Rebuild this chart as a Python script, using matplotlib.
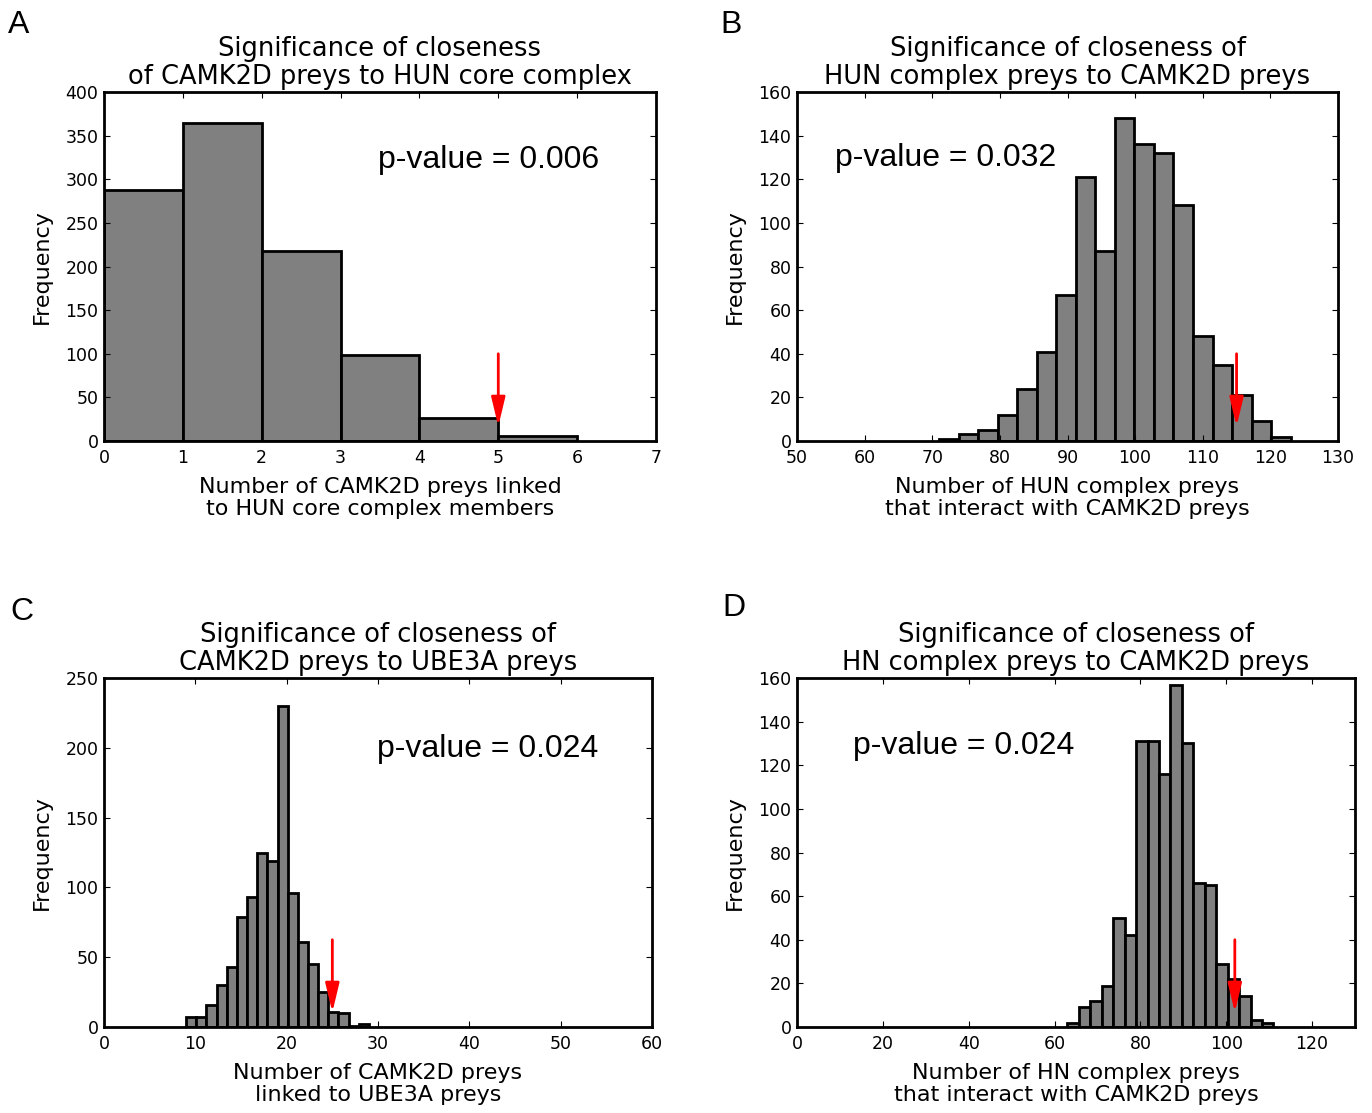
import numpy as np
import matplotlib
matplotlib.use("Agg")
import matplotlib.pyplot as plt

# histogram counts (1000 random samples each)
counts_a = [288, 364, 218, 98, 26, 6]
edges_a = (0, 6)
counts_b = [1, 3, 5, 12, 24, 41, 67, 121, 87, 148, 136, 132, 108, 48, 35, 21, 9, 2]
edges_b = (71, 123)
counts_c = [7, 7, 16, 30, 43, 79, 93, 125, 119, 230, 96, 61, 45, 25, 11, 10, 1, 2]
edges_c = (9, 29)
counts_d = [2, 9, 12, 19, 50, 42, 131, 131, 116, 157, 130, 66, 65, 29, 22, 14, 3, 2]
edges_d = (63, 111)

observed = [5, 115, 25, 102]
pvalues = ["0.006", "0.032", "0.024", "0.024"]

titles = ["Significance of closeness\nof CAMK2D preys to HUN core complex",
          "Significance of closeness of\nHUN complex preys to CAMK2D preys",
          "Significance of closeness of\nCAMK2D preys to UBE3A preys",
          "Significance of closeness of\nHN complex preys to CAMK2D preys"]
xlabels = ["Number of CAMK2D preys linked\nto HUN core complex members",
           "Number of HUN complex preys\nthat interact with CAMK2D preys",
           "Number of CAMK2D preys\nlinked to UBE3A preys",
           "Number of HN complex preys\nthat interact with CAMK2D preys"]
letters = ["A", "B", "C", "D"]

plt.rcParams["xtick.direction"] = "in"
plt.rcParams["ytick.direction"] = "in"
plt.rcParams["xtick.top"] = True
plt.rcParams["ytick.right"] = True
plt.rcParams["xtick.major.size"] = 4
plt.rcParams["ytick.major.size"] = 4
plt.rcParams["xtick.major.pad"] = 6
plt.rcParams["ytick.major.pad"] = 4

W, H = 1372, 1113
fig = plt.figure(figsize=(W / 100, H / 100), dpi=100)

# axes boxes in pixels: left, right, top, bottom
boxes = [(104, 656, 92, 441), (797, 1338, 92, 441),
         (104, 652, 678, 1027), (797, 1355, 678, 1027)]
xlims = [(0, 7), (50, 130), (0, 60), (0, 130)]
ylims = [(0, 400), (0, 160), (0, 250), (0, 160)]
xticks = [np.arange(0, 8, 1), np.arange(50, 131, 10), np.arange(0, 61, 10), np.arange(0, 121, 20)]
yticks = [np.arange(0, 401, 50), np.arange(0, 161, 20), np.arange(0, 251, 50), np.arange(0, 161, 20)]
ptext_pos = [(0.496, 0.805), (0.070, 0.811), (0.498, 0.797), (0.100, 0.805)]
letter_pos = [(8, 33), (720, 33), (10, 620), (722, 616)]

data = [(counts_a, edges_a), (counts_b, edges_b), (counts_c, edges_c), (counts_d, edges_d)]

for i in range(4):
    l, r, t, b = boxes[i]
    ax = fig.add_axes([l / W, (H - b) / H, (r - l) / W, (b - t) / H])
    counts, (lo, hi) = data[i]
    edges = np.linspace(lo, hi, len(counts) + 1)
    ax.hist(edges[:-1], bins=edges, weights=counts, color="#808080",
            edgecolor="black", linewidth=2)
    ax.set_xlim(*xlims[i]); ax.set_ylim(*ylims[i])
    ax.set_xticks(xticks[i]); ax.set_yticks(yticks[i])
    ax.tick_params(labelsize=12.5)
    for s in ax.spines.values():
        s.set_linewidth(2)
    ymax = ylims[i][1]
    ax.annotate("", xy=(observed[i], ymax * 0.042), xytext=(observed[i], ymax * 0.25),
                arrowprops=dict(arrowstyle="-|>,head_length=1.75,head_width=0.42",
                                color="red", lw=2, shrinkA=0, shrinkB=0, mutation_scale=10))
    ax.text(ptext_pos[i][0], ptext_pos[i][1], "p-value = " + pvalues[i], transform=ax.transAxes,
            fontsize=23, family="Liberation Sans", va="center", ha="left")
    ax.set_title(titles[i], fontsize=18.5, linespacing=1.1, pad=6)
    ax.set_xlabel(xlabels[i], fontsize=16, linespacing=1.15, labelpad=7)
    ax.set_ylabel("Frequency", fontsize=16, labelpad=10)
    fig.text(letter_pos[i][0] / W, 1 - letter_pos[i][1] / H, letters[i], fontsize=23,
             family="Liberation Sans", ha="left", va="baseline")

plt.savefig("out.png", dpi=100)
